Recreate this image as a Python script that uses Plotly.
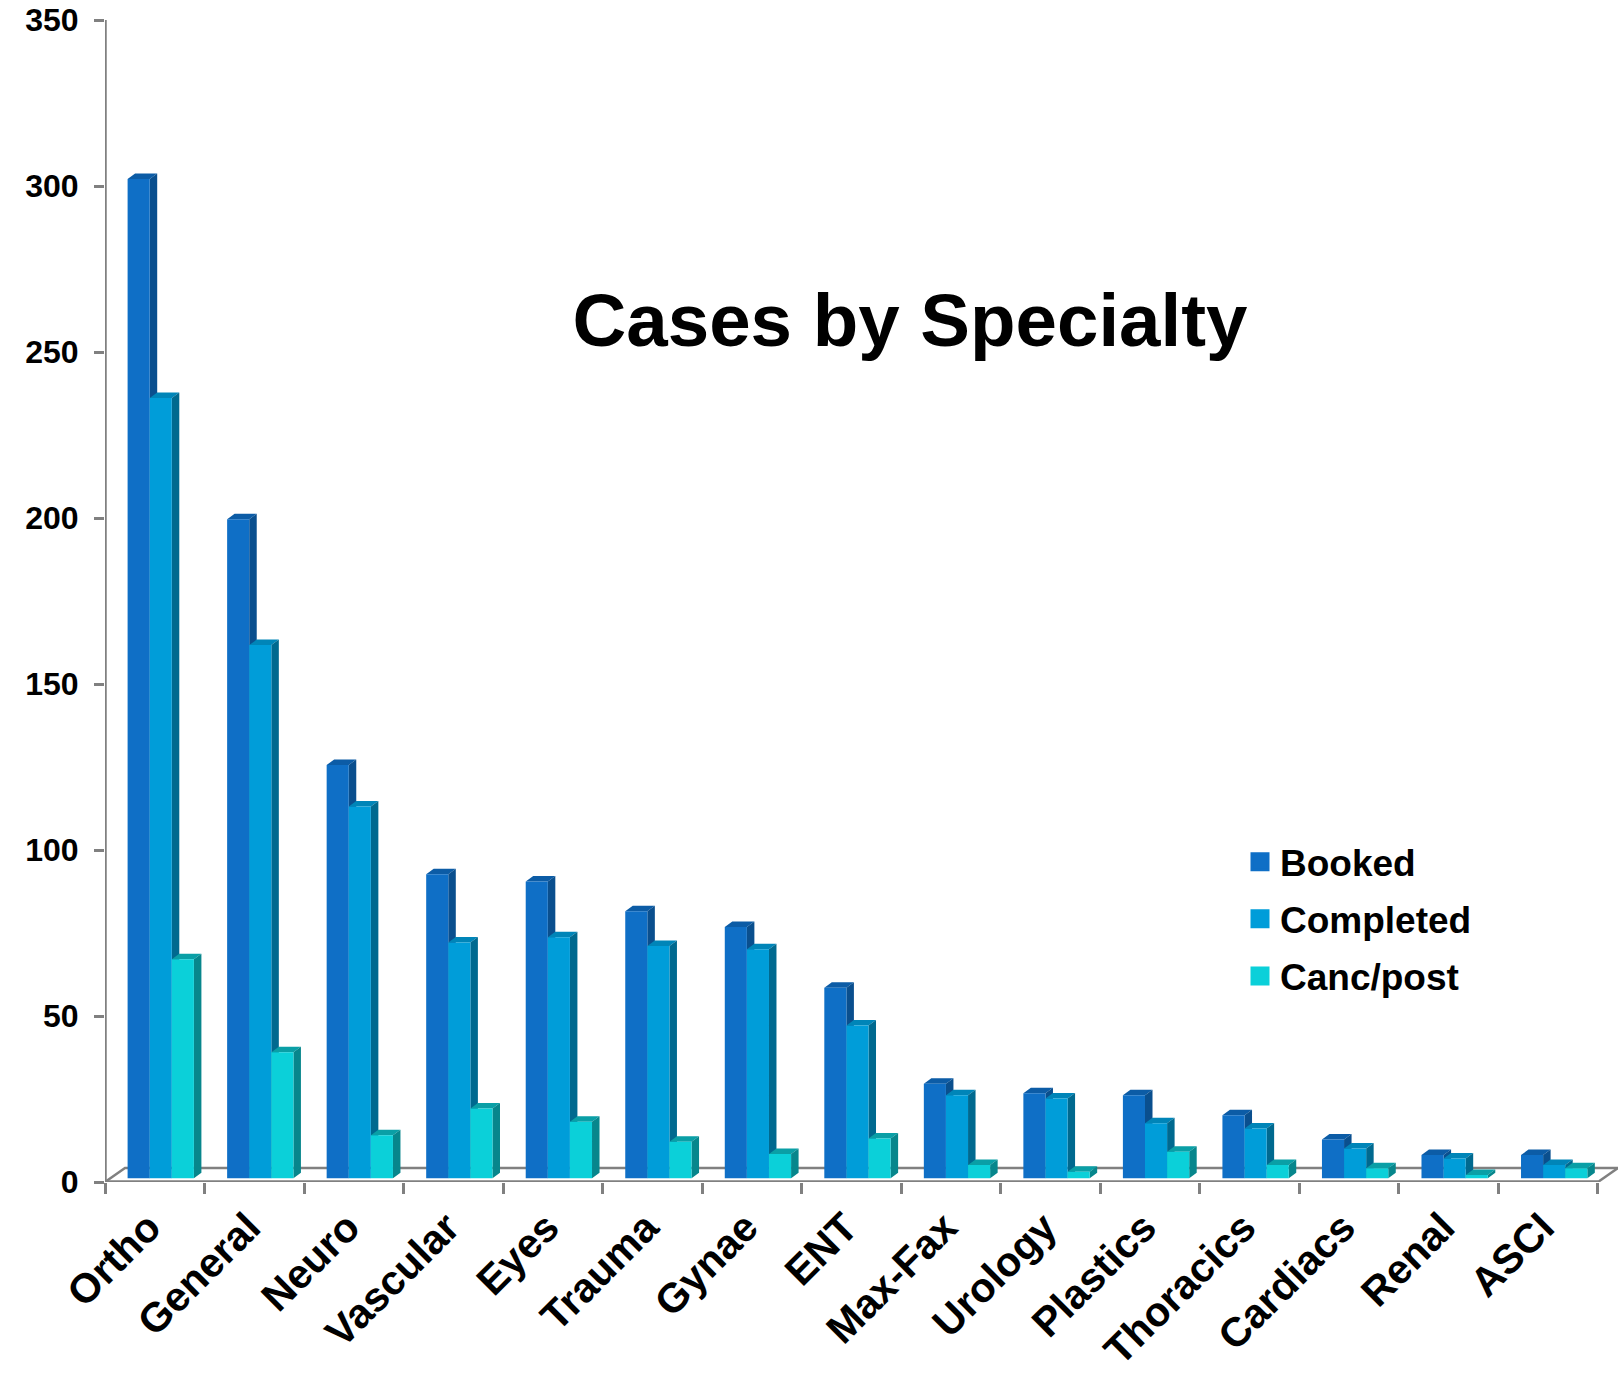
import plotly.graph_objects as go

specialties = ["Ortho", "General", "Neuro", "Vascular", "Eyes", "Trauma", "Gynae", "ENT",
               "Max-Fax", "Urology", "Plastics", "Thoracics", "Cardiacs", "Renal", "ASCI"]
booked = [301, 198.5, 124.5, 91.6, 89.4, 80.4, 75.7, 57.4, 28.5, 25.6, 25, 19, 11.7, 7, 7]
completed = [235, 160.6, 112, 71, 72.6, 70, 69, 46, 25, 24, 16.6, 15, 9, 6, 4]
cancelled = [66, 38, 13, 21, 17, 11, 7.3, 12, 4, 2, 8, 4, 3, 1, 3]
y_ticks = [0, 50, 100, 150, 200, 250, 300, 350]

FONT = "Liberation Sans"
AXIS_GREY = "#808080"

# Pixel frame of the plot area
W, H = 1618, 1374
LEFT, TOP, ZERO_Y = 105, 20, 1181.7
CAT_PX = 99.53
UNIT_PX = (ZERO_Y - TOP) / 350

# Oblique projection of the bars and floor, in data units
BAR_W = 22.1 / CAT_PX
BAR_START = 22.6 / CAT_PX
BAR_BASE = 3.7 / UNIT_PX
BAR_DX = 7.5 / CAT_PX
BAR_DY = 5.5 / UNIT_PX
FLOOR_DX = 20 / CAT_PX
FLOOR_DY = 14 / UNIT_PX
X_MAX = (W - LEFT) / CAT_PX

series = [
    ("Booked", booked, 0, "#0F6FC6", "#0C5CA6", "#0A4F8E"),
    ("Completed", completed, 1, "#009DD9", "#0085B8", "#00698F"),
    ("Canc/post", cancelled, 2, "#0BD0D9", "#0A9FA6", "#07868C"),
]


def polygons(shapes):
    xs, ys = [], []
    for shape in shapes:
        for px, py in shape:
            xs.append(px)
            ys.append(py)
        xs.append(shape[0][0])
        ys.append(shape[0][1])
        xs.append(None)
        ys.append(None)
    return xs, ys


def face(shapes, colour):
    xs, ys = polygons(shapes)
    return go.Scatter(x=xs, y=ys, mode="lines", fill="toself", fillcolor=colour,
                      line=dict(width=0, color=colour), hoverinfo="skip", showlegend=False)


def axis_line(xs, ys, width):
    return go.Scatter(x=xs, y=ys, mode="lines", cliponaxis=False,
                      line=dict(color=AXIS_GREY, width=width), hoverinfo="skip", showlegend=False)


fig = go.Figure()

# Floor outline and the two axis lines, behind the bars
fig.add_trace(axis_line([0, FLOOR_DX, X_MAX, None, 15, 15 + FLOOR_DX],
                        [0, FLOOR_DY, FLOOR_DY, None, 0, FLOOR_DY], 2.5))
fig.add_trace(axis_line([0, 15], [0, 0], 3.5))
fig.add_trace(axis_line([0, 0], [0, 350], 3.5))

# Each series paints top, side and front so the next one overlaps it
for name, values, slot, front_c, top_c, side_c in series:
    tops, sides, fronts = [], [], []
    for i, v in enumerate(values):
        x0 = i + BAR_START + slot * BAR_W
        x1 = x0 + BAR_W
        y0 = BAR_BASE
        y1 = BAR_BASE + v
        fronts.append([(x0, y0), (x1, y0), (x1, y1), (x0, y1)])
        tops.append([(x0, y1), (x1, y1), (x1 + BAR_DX, y1 + BAR_DY), (x0 + BAR_DX, y1 + BAR_DY)])
        sides.append([(x1, y0), (x1 + BAR_DX, y0 + BAR_DY), (x1 + BAR_DX, y1 + BAR_DY), (x1, y1)])
    fig.add_trace(face(tops, top_c))
    fig.add_trace(face(sides, side_c))
    fig.add_trace(face(fronts, front_c))

# Legend entries
for name, values, slot, front_c, top_c, side_c in series:
    fig.add_trace(go.Scatter(x=[None], y=[None], mode="markers", name=f"<b>{name}</b>", legendgroup=name,
                             marker=dict(symbol="square", size=16, color=front_c,
                                         line=dict(color=front_c, width=3))))

fig.update_layout(
    width=W, height=H, autosize=False,
    margin=dict(l=LEFT, r=0, t=TOP, b=H - ZERO_Y, pad=0, autoexpand=False),
    paper_bgcolor="white", plot_bgcolor="white",
    font=dict(family=FONT, color="black"),
    title=dict(text="<b>Cases by Specialty</b>", font=dict(family=FONT, size=74.5, color="black"),
               x=910 / W, xref="container", xanchor="center",
               y=1 - 319.5 / H, yref="container", yanchor="middle"),
    xaxis=dict(range=[0, X_MAX], automargin=False, showgrid=False, zeroline=False, showline=False,
               tickmode="array", tickvals=[i + 0.5 for i in range(15)],
               ticktext=[f"<b>{s}</b>" for s in specialties],
               tickangle=-45, ticks="", ticklabelstandoff=12, ticklabelshift=-6,
               tickfont=dict(family=FONT, size=41, color="black"),
               minor=dict(tickmode="linear", tick0=0, dtick=1, ticks="outside", ticklen=11,
                          tickwidth=2.5, tickcolor=AXIS_GREY, showgrid=False)),
    yaxis=dict(range=[0, 350], automargin=False, tickmode="array", tickvals=y_ticks,
               ticktext=[f"<b>{t}</b>" for t in y_ticks],
               showgrid=False, zeroline=False, showline=False,
               ticks="outside", ticklen=10, tickwidth=2.5, tickcolor=AXIS_GREY, ticklabelstandoff=9,
               tickfont=dict(family=FONT, size=32, color="black")),
    legend=dict(x=(1240 - LEFT) / (W - LEFT), y=1 - (831 - TOP) / (ZERO_Y - TOP),
                xanchor="left", yanchor="top",
                traceorder="grouped", tracegroupgap=6, bgcolor="rgba(0,0,0,0)",
                font=dict(family=FONT, size=37, color="black"), itemwidth=30),
    showlegend=True,
)

fig.write_html("out.html")
